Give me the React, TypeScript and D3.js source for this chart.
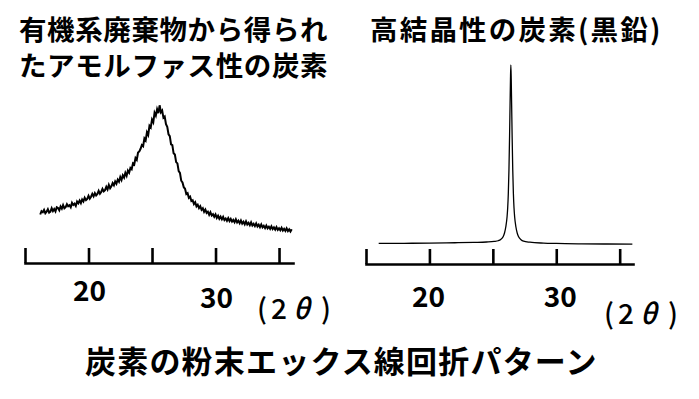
import React, { useEffect, useRef } from "react";
import * as d3 from "d3";

// 有機系廃棄物由来のアモルファス炭素: [2θ, 強度(相対)]
const amorphousData: [number, number][] = [
  [16.2, 25.0], [16.3, 27.3], [16.4, 26.6], [16.5, 28.2], [16.6, 25.9], [16.7, 27.0], [16.8, 28.7], [16.9, 26.4], [17.0, 27.1], [17.1, 29.5],
  [17.2, 27.4], [17.3, 28.9], [17.4, 27.2], [17.5, 30.1], [17.6, 29.6], [17.7, 28.0], [17.8, 30.7], [17.9, 29.1], [18.0, 31.6], [18.1, 29.4],
  [18.2, 30.2], [18.3, 32.3], [18.4, 30.8], [18.5, 31.5], [18.6, 30.1], [18.7, 33.2], [18.8, 31.7], [18.9, 32.6], [19.0, 31.0], [19.1, 34.1],
  [19.2, 32.9], [19.3, 34.8], [19.4, 33.0], [19.5, 35.6], [19.6, 34.2], [19.7, 36.8], [19.8, 35.1], [19.9, 36.0], [20.0, 38.2], [20.1, 36.1],
  [20.2, 37.5], [20.3, 39.6], [20.4, 37.8], [20.5, 40.1], [20.6, 38.4], [20.7, 39.5], [20.8, 41.7], [20.9, 39.6], [21.0, 40.9], [21.1, 43.0],
  [21.2, 41.3], [21.3, 42.2], [21.4, 44.5], [21.5, 42.6], [21.6, 45.8], [21.7, 43.5], [21.8, 44.9], [21.9, 47.2], [22.0, 45.6], [22.1, 48.3],
  [22.2, 46.7], [22.3, 49.6], [22.4, 48.1], [22.5, 51.4], [22.6, 49.3], [22.7, 52.6], [22.8, 51.0], [22.9, 54.3], [23.0, 52.2], [23.1, 55.9],
  [23.2, 54.4], [23.3, 57.8], [23.4, 56.9], [23.5, 61.0], [23.6, 60.2], [23.7, 64.8], [23.8, 63.5], [23.9, 68.6], [24.0, 69.4], [24.1, 71.3],
  [24.2, 73.9], [24.3, 73.1], [24.4, 78.6], [24.5, 77.2], [24.6, 82.9], [24.7, 81.0], [24.8, 87.5], [24.9, 86.3], [25.0, 91.8], [25.1, 89.9],
  [25.2, 96.7], [25.3, 94.6], [25.4, 99.1], [25.5, 96.4], [25.6, 101.9], [25.7, 97.0], [25.8, 98.2], [25.9, 93.1], [26.0, 94.0], [26.1, 88.6],
  [26.2, 86.7], [26.3, 81.5], [26.4, 80.2], [26.5, 74.4], [26.6, 73.8], [26.7, 68.1], [26.8, 67.2], [26.9, 61.9], [27.0, 61.0], [27.1, 55.6],
  [27.2, 54.3], [27.3, 48.8], [27.4, 47.5], [27.5, 44.2], [27.6, 43.1], [27.7, 39.4], [27.8, 40.0], [27.9, 36.7], [28.0, 37.6], [28.1, 34.5],
  [28.2, 35.0], [28.3, 32.3], [28.4, 33.6], [28.5, 30.7], [28.6, 31.9], [28.7, 29.5], [28.8, 30.8], [28.9, 28.3], [29.0, 29.4], [29.1, 26.9],
  [29.2, 28.5], [29.3, 26.1], [29.4, 27.0], [29.5, 24.8], [29.6, 26.6], [29.7, 24.3], [29.8, 25.2], [29.9, 23.4], [30.0, 25.0], [30.1, 22.6],
  [30.2, 24.1], [30.3, 22.0], [30.4, 23.5], [30.5, 21.6], [30.6, 23.3], [30.7, 21.1], [30.8, 22.2], [30.9, 20.6], [31.0, 22.4], [31.1, 20.4],
  [31.2, 21.9], [31.3, 20.0], [31.4, 21.2], [31.5, 19.6], [31.6, 21.6], [31.7, 19.4], [31.8, 20.7], [31.9, 18.9], [32.0, 20.8], [32.1, 18.6],
  [32.2, 19.9], [32.3, 18.1], [32.4, 20.2], [32.5, 18.0], [32.6, 19.1], [32.7, 17.4], [32.8, 19.5], [32.9, 17.3], [33.0, 18.4], [33.1, 16.8],
  [33.2, 18.7], [33.3, 16.6], [33.4, 17.8], [33.5, 16.1], [33.6, 18.0], [33.7, 15.9], [33.8, 17.0], [33.9, 15.4], [34.0, 17.2], [34.1, 15.3],
  [34.2, 16.4], [34.3, 14.9], [34.4, 16.7], [34.5, 14.7], [34.6, 15.9], [34.7, 14.3], [34.8, 16.1], [34.9, 14.2], [35.0, 15.3], [35.1, 13.9],
  [35.2, 15.6], [35.3, 13.7], [35.4, 14.9], [35.5, 13.4], [35.6, 15.2], [35.7, 13.3], [35.8, 14.5], [35.9, 13.0], [36.0, 14.6],
];

// 高結晶性の炭素(黒鉛): [2θ, 強度(相対)]
const graphiteData: [number, number][] = [
  [16.0, 1.4], [18.0, 1.5], [20.0, 1.6], [22.0, 1.8], [23.5, 2.0], [24.5, 2.2], [25.1, 2.5], [25.42, 2.9],
  [25.62, 3.6], [25.82, 5.2], [25.92, 7.2], [26.02, 10.5], [26.12, 16], [26.17, 21], [26.22, 29], [26.27, 42],
  [26.32, 61], [26.36, 79], [26.39, 92], [26.42, 100], [26.45, 92], [26.48, 79], [26.52, 61], [26.57, 42],
  [26.62, 29], [26.67, 21], [26.72, 16], [26.82, 10.5], [26.92, 7.2], [27.02, 5.2], [27.22, 3.5], [27.42, 2.7],
  [27.92, 2.1], [29.0, 1.6], [30.0, 1.4], [32.0, 1.2], [34.0, 1.1], [36.0, 1.0],
];

const tickValues = [15, 20, 25, 30, 35];
const labelValues = [20, 30];
const unitParts = ["(", "2", "θ", ")"];
const leftTitle = ["有機系廃棄物から得られ", "たアモルファス性の炭素"];
const rightTitle = "高結晶性の炭素(黒鉛)";
const caption = "炭素の粉末エックス線回折パターン";

const font = "'Noto Sans CJK JP', 'Noto Sans CJK SC', sans-serif";

function UnitLabel({ x, y }: { x: number; y: number }) {
  const offsets = [0, 14, 36, 64];
  return (
    <text y={y} fontFamily={font} fontSize={28} fontWeight={500}>
      {unitParts.map((p, i) => (
        <tspan key={i} x={x + offsets[i]} fontStyle={p === "θ" ? "italic" : "normal"}>
          {p}
        </tspan>
      ))}
    </text>
  );
}

export default function App() {
  const leftAxis = useRef<SVGGElement>(null);
  const rightAxis = useRef<SVGGElement>(null);

  const xLeft = d3.scaleLinear().domain([15, 36.1]).range([25, 293]);
  const yLeft = d3.scaleLinear().domain([0, 100]).range([250, 108]);
  const xRight = d3.scaleLinear().domain([15, 36.05]).range([366, 633]);
  const yRight = d3.scaleLinear().domain([0, 100]).range([246, 65]);

  const lineLeft = d3
    .line<[number, number]>()
    .x((d) => xLeft(d[0]))
    .y((d) => yLeft(d[1]));
  const lineRight = d3
    .line<[number, number]>()
    .x((d) => xRight(d[0]))
    .y((d) => yRight(d[1]))
    .curve(d3.curveMonotoneX);

  useEffect(() => {
    document.body.style.margin = "0";
    [
      [leftAxis.current, xLeft],
      [rightAxis.current, xRight],
    ].forEach(([node, scale]: any) => {
      const g = d3.select(node).html(null);
      g.call(
        d3.axisTop(scale).tickValues(tickValues).tickSize(15).tickSizeOuter(0).tickFormat(() => "")
      );
      g.selectAll("path, line").attr("stroke", "#000").attr("stroke-width", 2.6);
      g.select(".domain").attr("stroke-linecap", "square");
    });
  });

  return (
    <svg width={699} height={399} style={{ display: "block", background: "#fff" }}>
      <g fontFamily={font} fontWeight={700} fill="#000">
        {leftTitle.map((t, i) => (
          <text key={t} x={19} y={40 + i * 36} fontSize={27.5} letterSpacing={0.6}>
            {t}
          </text>
        ))}
        <text x={370} y={40} fontSize={27.5} letterSpacing={2.2}>
          {rightTitle}
        </text>
        <text x={85} y={373} fontSize={31} letterSpacing={1.2}>
          {caption}
        </text>
      </g>

      <path d={lineLeft(amorphousData) ?? ""} fill="none" stroke="#000" strokeWidth={2} />
      <path d={lineRight(graphiteData) ?? ""} fill="none" stroke="#000" strokeWidth={1.3} />

      <g ref={leftAxis} transform="translate(0,263)" />
      <g ref={rightAxis} transform="translate(0,264)" />

      <g fontFamily={font} fontWeight={700} fontSize={28} textAnchor="middle">
        <text x={xLeft(labelValues[0]) + 1} y={301}>{labelValues[0]}</text>
        <text x={xLeft(labelValues[1]) + 1} y={308}>{labelValues[1]}</text>
        <text x={xRight(labelValues[0]) - 1} y={307}>{labelValues[0]}</text>
        <text x={xRight(labelValues[1]) + 4} y={307}>{labelValues[1]}</text>
      </g>
      <UnitLabel x={257} y={319} />
      <UnitLabel x={604} y={324} />
    </svg>
  );
}
